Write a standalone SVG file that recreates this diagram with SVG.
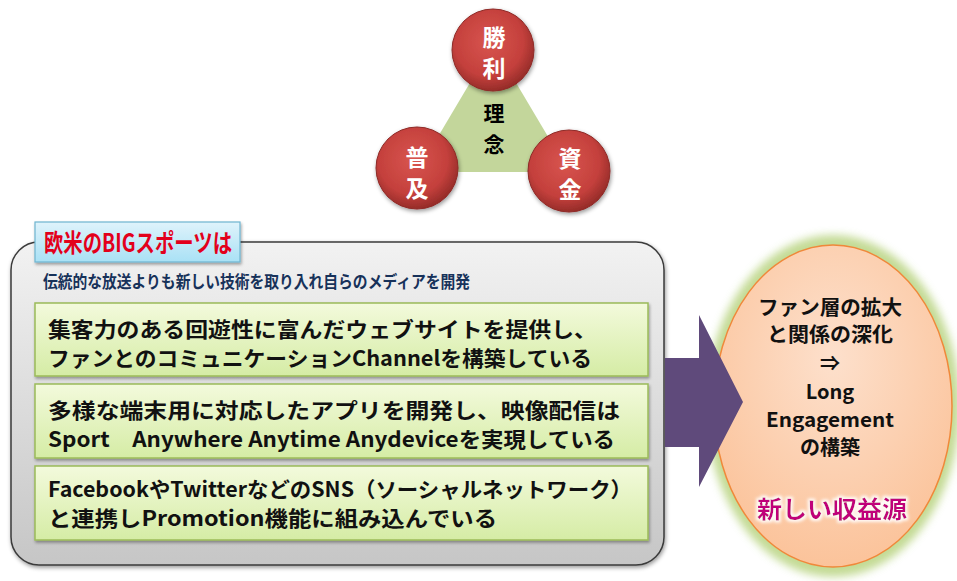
<svg xmlns="http://www.w3.org/2000/svg" width="957" height="581" viewBox="0 0 957 581">
<defs>
<style>
.jp{font-family:"Noto Sans CJK JP","Noto Sans",sans-serif;font-weight:bold}
.circ-t{fill:#ffffff;font-size:23px;text-anchor:middle}
.core-t{fill:#000000;font-size:21px;text-anchor:middle}
.box-t{fill:#111111;font-size:21px}
.ell-t{fill:#111111;font-size:20px;text-anchor:middle}
.circle{fill:url(#redG);stroke:#8e2a27;stroke-width:1;filter:url(#sh)}
.gbox{fill:url(#greenG);stroke:#9bbb59;stroke-width:1.5;filter:url(#sh2)}
</style>
<radialGradient id="redG" cx="0.45" cy="0.4" r="0.6">
<stop offset="0" stop-color="#d8554f"/>
<stop offset="0.7" stop-color="#c4403c"/>
<stop offset="1" stop-color="#962c29"/>
</radialGradient>
<linearGradient id="greyG" x1="0" y1="0" x2="0" y2="1">
<stop offset="0" stop-color="#f2f2f2"/>
<stop offset="1" stop-color="#c6c6c6"/>
</linearGradient>
<linearGradient id="greenG" x1="0" y1="0" x2="0" y2="1">
<stop offset="0" stop-color="#f3fadc"/>
<stop offset="1" stop-color="#d5eca5"/>
</linearGradient>
<linearGradient id="blueG" x1="0" y1="0" x2="0" y2="1">
<stop offset="0" stop-color="#dff3fb"/>
<stop offset="1" stop-color="#a9e1f5"/>
</linearGradient>
<radialGradient id="peachG" cx="0.5" cy="0.35" r="0.7">
<stop offset="0" stop-color="#fde0cc"/>
<stop offset="1" stop-color="#fbc197"/>
</radialGradient>
<filter id="sh" x="-20%" y="-20%" width="140%" height="140%">
<feDropShadow dx="1" dy="2" stdDeviation="2" flood-color="#000" flood-opacity="0.4"/>
</filter>
<filter id="sh2" x="-5%" y="-10%" width="110%" height="130%">
<feDropShadow dx="1" dy="2" stdDeviation="1.5" flood-color="#000" flood-opacity="0.35"/>
</filter>
<filter id="glow" x="-20%" y="-20%" width="140%" height="140%">
<feGaussianBlur stdDeviation="4"/>
</filter>
<filter id="tglow" x="-10%" y="-30%" width="120%" height="160%">
<feMorphology operator="dilate" radius="1.5" in="SourceAlpha" result="d"/>
<feGaussianBlur in="d" stdDeviation="1.5" result="b"/>
<feFlood flood-color="#ffffff" flood-opacity="0.9"/>
<feComposite operator="in" in2="b" result="g"/>
<feMerge><feMergeNode in="g"/><feMergeNode in="SourceGraphic"/></feMerge>
</filter>
</defs>

<rect width="957" height="581" fill="#ffffff"/>

<!-- Top concept triangle -->
<g id="core">
<polygon points="493,44 417,172 569,172" fill="#c3d69b"/>
<text class="jp core-t" x="494" y="121">理</text>
<text class="jp core-t" x="494" y="152">念</text>
</g>
<g id="node-shori">
<circle class="circle" cx="493" cy="50" r="41"/>
<text class="jp circ-t" x="494" y="46">勝</text>
<text class="jp circ-t" x="494" y="77">利</text>
</g>
<g id="node-fukyu">
<circle class="circle" cx="417" cy="168" r="41"/>
<text class="jp circ-t" x="417" y="166">普</text>
<text class="jp circ-t" x="417" y="197">及</text>
</g>
<g id="node-shikin">
<circle class="circle" cx="569" cy="171" r="41"/>
<text class="jp circ-t" x="570" y="167">資</text>
<text class="jp circ-t" x="570" y="198">金</text>
</g>

<!-- Left main panel -->
<g id="panel">
<rect x="11" y="242" width="653" height="323" rx="28" ry="28" fill="url(#greyG)" stroke="#3a3a3a" stroke-width="1.5" filter="url(#sh)"/>
<text class="jp" x="43" y="288" font-size="17" fill="#17325a" textLength="427" lengthAdjust="spacingAndGlyphs">伝統的な放送よりも新しい技術を取り入れ自らのメディアを開発</text>
</g>
<g id="label">
<rect x="35" y="222" width="205" height="40" fill="url(#blueG)" stroke="#6fb5d0" stroke-width="1.2" filter="url(#sh2)"/>
<text class="jp" x="44" y="252" font-size="25" fill="#e3001b" textLength="188" lengthAdjust="spacingAndGlyphs">欧米のBIGスポーツは</text>
</g>

<g id="box1">
<rect class="gbox" x="35" y="303" width="613" height="73"/>
<text class="jp box-t" x="48" y="337" textLength="549" lengthAdjust="spacingAndGlyphs">集客力のある回遊性に富んだウェブサイトを提供し、</text>
<text class="jp box-t" x="48" y="366" textLength="544" lengthAdjust="spacingAndGlyphs">ファンとのコミュニケーションChannelを構築している</text>
</g>
<g id="box2">
<rect class="gbox" x="35" y="384" width="613" height="74"/>
<text class="jp box-t" x="48" y="418" textLength="572" lengthAdjust="spacingAndGlyphs">多様な端末用に対応したアプリを開発し、映像配信は</text>
<text class="jp box-t" x="48" y="447" textLength="567" lengthAdjust="spacingAndGlyphs">Sport　Anywhere Anytime Anydeviceを実現している</text>
</g>
<g id="box3">
<rect class="gbox" x="35" y="466" width="613" height="74"/>
<text class="jp box-t" x="48" y="497" textLength="584" lengthAdjust="spacingAndGlyphs">FacebookやTwitterなどのSNS（ソーシャルネットワーク）</text>
<text class="jp box-t" x="48" y="526" textLength="449" lengthAdjust="spacingAndGlyphs">と連携しPromotion機能に組み込んでいる</text>
</g>

<!-- Right ellipse -->
<g id="result">
<ellipse cx="833" cy="406" rx="127" ry="171" fill="#b9d482" opacity="0.85" filter="url(#glow)"/>
<ellipse cx="833" cy="406" rx="119" ry="161" fill="url(#peachG)" stroke="#f0883a" stroke-width="1.5"/>
<text class="jp ell-t" x="830" y="315" textLength="144" lengthAdjust="spacingAndGlyphs">ファン層の拡大</text>
<text class="jp ell-t" x="830" y="342" textLength="126" lengthAdjust="spacingAndGlyphs">と関係の深化</text>
<text class="jp ell-t" x="830" y="371" font-size="15">⇒</text>
<text class="jp ell-t" x="830" y="399">Long</text>
<text class="jp ell-t" x="830" y="427" textLength="128" lengthAdjust="spacingAndGlyphs">Engagement</text>
<text class="jp ell-t" x="830" y="455">の構築</text>
<text class="jp" x="832" y="518" font-size="24" fill="#c0007a" text-anchor="middle" textLength="150" lengthAdjust="spacingAndGlyphs" filter="url(#tglow)">新しい収益源</text>
</g>

<!-- Connector: big arrow -->
<g id="connectors">
<polygon points="665,358 699,358 699,315 743,402 699,487 699,447 665,447" fill="#5f4a7b"/>
</g>
</svg>
